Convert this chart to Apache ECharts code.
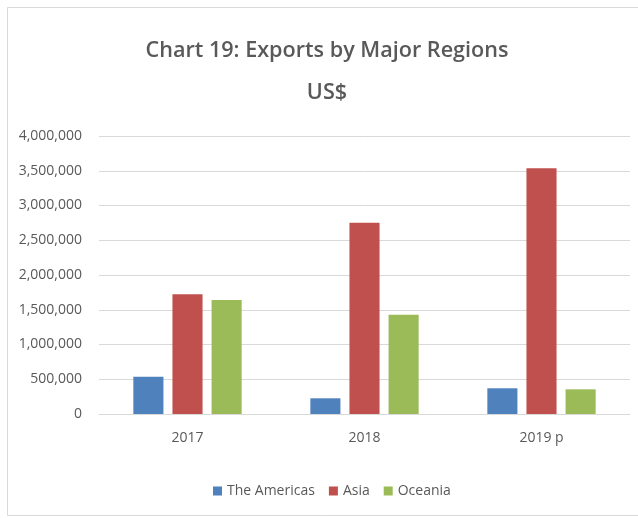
<!DOCTYPE html>
<html>
<head>
<meta charset="utf-8">
<script src="https://cdn.jsdelivr.net/npm/echarts@6/dist/echarts.min.js"></script>
<style>html,body{margin:0;padding:0;background:#fff;}#c{width:638px;height:518px;}</style>
</head>
<body>
<div id="c"></div>
<script>
const categories = ['2017', '2018', '2019 p'];
const seriesNames = ['The Americas', 'Asia', 'Oceania'];
const americas = [537000, 226000, 370000];
const asia = [1722000, 2753000, 3535000];
const oceania = [1640000, 1429000, 355000];
const colors = ['#4F81BD', '#C0504D', '#9BBB59'];

const font = '"Open Sans", sans-serif';
const chart = echarts.init(document.getElementById('c'));
const values = [americas, asia, oceania];
chart.setOption({
  animation: false,
  backgroundColor: '#fff',
  title: {
    text: 'Chart 19: Exports by Major Regions\nUS$',
    left: 322,
    textAlign: 'center',
    top: 25,
    textStyle: { fontFamily: font, fontSize: 21.6, fontWeight: 600, color: '#595959', lineHeight: 42 }
  },
  graphic: [{
    type: 'rect', shape: { x: 7.5, y: 7.5, width: 640, height: 508 },
    style: { fill: 'none', stroke: '#d9d9d9', lineWidth: 1 }, silent: true
  }],
  legend: {
    bottom: 15,
    left: 208,
    itemWidth: 9, itemHeight: 9, itemGap: 14,
    icon: 'rect',
    textStyle: { fontFamily: font, fontSize: 14, color: '#595959' },
    data: seriesNames
  },
  grid: { left: 99, right: 8, top: 136, bottom: 104 },
  xAxis: {
    type: 'category', data: categories,
    axisLine: { lineStyle: { color: '#d9d9d9' } },
    axisTick: { show: false },
    axisLabel: { fontFamily: font, fontSize: 14, color: '#595959', margin: 17 }
  },
  yAxis: {
    type: 'value', min: 0, max: 4000000, interval: 500000,
    axisLine: { show: false }, axisTick: { show: false },
    splitLine: { lineStyle: { color: '#d9d9d9' } },
    axisLabel: {
      fontFamily: font, fontSize: 14, color: '#595959', margin: 17,
      formatter: v => v.toLocaleString('en-US')
    }
  },
  series: seriesNames.map((n, i) => ({
    name: n, type: 'bar', data: values[i],
    barWidth: '17%', barGap: '30%',
    itemStyle: { color: colors[i] }
  }))
});
</script>
</body>
</html>
